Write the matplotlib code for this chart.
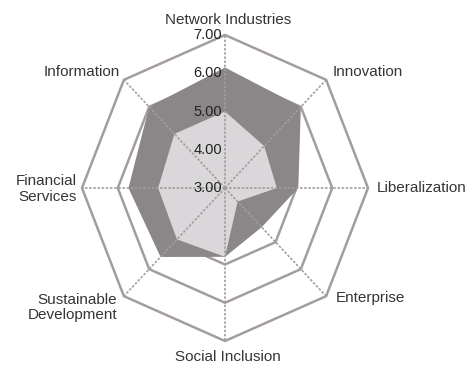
import numpy as np
import matplotlib
matplotlib.use('Agg')
import matplotlib.pyplot as plt

plt.rcParams['font.family'] = ['Liberation Sans Narrow', 'Liberation Sans', 'DejaVu Sans']

categories = ['Network Industries', 'Innovation', 'Liberalization', 'Enterprise',
              'Social Inclusion', 'Sustainable\nDevelopment', 'Financial\nServices', 'Information']
outerValues = [6.15, 6.0, 5.05, 4.45, 4.8, 5.55, 5.7, 6.0]
innerValues = [5.0, 4.55, 4.45, 3.5, 4.8, 4.9, 4.87, 5.0]
gridLevels = [4.0, 5.0, 6.0, 7.0]
tickLabels = ['3.00', '4.00', '5.00', '6.00', '7.00']
baseValue = 3.0

# label offsets in pixels from the outer vertex, with alignment
labelOffsets = [(3, 15, 'center'), (7, 8, 'left'), (9, 0, 'left'), (10, -2, 'left'),
                (3, -16, 'center'), (-7, -11, 'right'), (-5, -1, 'right'), (-4, 8, 'right')]

gridColor = '#a39d9f'
textColor = '#383436'


def to_xy(values):
    angles = np.linspace(0, 2 * np.pi, len(values), endpoint=False)
    radius = np.asarray(values) - baseValue
    return radius * np.sin(angles), radius * np.cos(angles)


fig = plt.figure(figsize=(4.76, 3.67), dpi=100)
ax = fig.add_axes([0, 0, 1, 1])
ax.set_xlim(-225 / 35.75, (476 - 225) / 35.75)
ax.set_ylim(-179 / 38.25, 188 / 38.25)
ax.axis('off')

# octagon grid
for level in gridLevels:
    gx, gy = to_xy([level] * len(categories))
    ax.fill(gx, gy, facecolor='none', edgecolor=gridColor, linewidth=1.8, zorder=1)

# series
ox, oy = to_xy(outerValues)
ax.fill(ox, oy, facecolor='#8b8688', edgecolor='none', zorder=2)
ix, iy = to_xy(innerValues)
ax.fill(ix, iy, facecolor='#d9d7da', edgecolor='none', zorder=3)

# spokes
sx, sy = to_xy([gridLevels[-1]] * len(categories))
for x, y in zip(sx, sy):
    ax.plot([0, x], [0, y], color=gridColor, linewidth=1.2, linestyle=(0, (1.5, 1)), zorder=4)

# tick labels along the top spoke
for i, label in enumerate(tickLabels):
    ax.annotate(label, (0, i), xytext=(-3, 0), textcoords='offset pixels',
                ha='right', va='center', fontsize=10.5, color='#222222', zorder=5)

# category labels
for (x, y), name, (dx, dy, align) in zip(zip(sx, sy), categories, labelOffsets):
    ax.annotate(name, (x, y), xytext=(dx, dy), textcoords='offset pixels',
                ha=align, va='center', multialignment=align, fontsize=11,
                color=textColor, linespacing=1.1)

fig.savefig('out.png', dpi=100)
